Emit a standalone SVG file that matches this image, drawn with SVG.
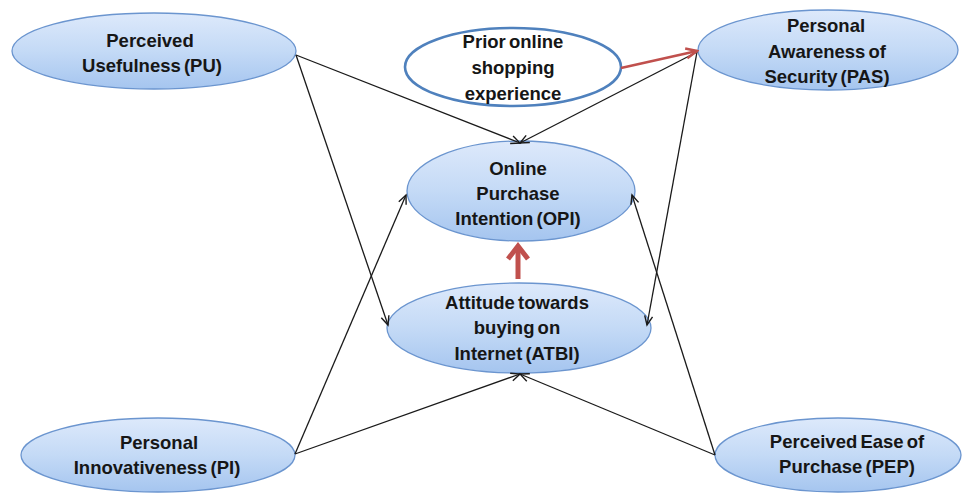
<svg xmlns="http://www.w3.org/2000/svg" width="962" height="493" viewBox="0 0 962 493">
<defs>
<linearGradient id="g" x1="0" y1="0" x2="0" y2="1">
<stop offset="0" stop-color="#dde9fb"/>
<stop offset="0.5" stop-color="#c4daf6"/>
<stop offset="1" stop-color="#a5c5ef"/>
</linearGradient>
<marker id="ah" markerUnits="userSpaceOnUse" markerWidth="12" markerHeight="12" refX="10" refY="5" orient="auto">
<path d="M1,1 L10,5 L1,9" fill="none" stroke="#1a1a1a" stroke-width="1.4"/>
</marker>
<marker id="rh" markerUnits="userSpaceOnUse" markerWidth="14" markerHeight="14" refX="12" refY="6" orient="auto">
<path d="M1,1 L12,6 L1,11" fill="none" stroke="#c0504d" stroke-width="2.6"/>
</marker>
</defs>
<style>
.n{fill:url(#g);stroke:#6b95cf;stroke-width:1.3}
.w{fill:#fff;stroke:#4f81bd;stroke-width:2.6}
.t{font-family:"Liberation Sans",Arial,sans-serif;font-weight:bold;font-size:18.5px;fill:#161616;text-anchor:middle;word-spacing:-2px}
.c{fill:none;stroke:#1a1a1a;stroke-width:1.3;marker-end:url(#ah)}
</style>
<rect width="962" height="493" fill="#fff"/>
<g id="PU">
<ellipse class="n" cx="154" cy="51" rx="142" ry="38"/>
<text class="t" x="150" y="47">Perceived</text>
<text class="t" x="152" y="72">Usefulness (PU)</text>
</g>
<g id="PRIOR">
<ellipse class="w" cx="513" cy="67" rx="108" ry="39"/>
<text class="t" x="513" y="48">Prior online</text>
<text class="t" x="513" y="74">shopping</text>
<text class="t" x="513" y="100">experience</text>
</g>
<g id="PAS">
<ellipse class="n" cx="828" cy="50" rx="130" ry="40"/>
<text class="t" x="826" y="32">Personal</text>
<text class="t" x="827" y="58">Awareness of</text>
<text class="t" x="827" y="83">Security (PAS)</text>
</g>
<g id="OPI">
<ellipse class="n" cx="521" cy="191" rx="114" ry="50"/>
<text class="t" x="518" y="175">Online</text>
<text class="t" x="518" y="200">Purchase</text>
<text class="t" x="518" y="225">Intention (OPI)</text>
</g>
<g id="ATBI">
<ellipse class="n" cx="519" cy="328" rx="132" ry="45"/>
<text class="t" x="517" y="309">Attitude towards</text>
<text class="t" x="517" y="334">buying on</text>
<text class="t" x="517" y="360">Internet (ATBI)</text>
</g>
<g id="PI">
<ellipse class="n" cx="158" cy="455" rx="137" ry="37"/>
<text class="t" x="159" y="449">Personal</text>
<text class="t" x="157" y="474">Innovativeness (PI)</text>
</g>
<g id="PEP">
<ellipse class="n" cx="838" cy="455" rx="123" ry="37"/>
<text class="t" x="847" y="448">Perceived Ease of</text>
<text class="t" x="847" y="473">Purchase (PEP)</text>
</g>
<g id="connectors">
<line class="c" x1="296" y1="55" x2="520" y2="143"/>
<line class="c" x1="296" y1="55" x2="388" y2="325"/>
<line class="c" x1="697" y1="52" x2="520" y2="143"/>
<line class="c" x1="697" y1="52" x2="647" y2="325"/>
<line class="c" x1="295" y1="454" x2="406" y2="195"/>
<line class="c" x1="295" y1="454" x2="520" y2="374"/>
<line class="c" x1="715" y1="455" x2="632" y2="195"/>
<line class="c" x1="715" y1="455" x2="520" y2="374"/>
<line x1="621" y1="68" x2="697" y2="51" stroke="#c0504d" stroke-width="2.6" marker-end="url(#rh)"/>
<line x1="518" y1="279" x2="518" y2="248" stroke="#c0504d" stroke-width="5"/>
<polyline points="508,259 518,246 528,259" fill="none" stroke="#c0504d" stroke-width="5"/>
</g>
</svg>
